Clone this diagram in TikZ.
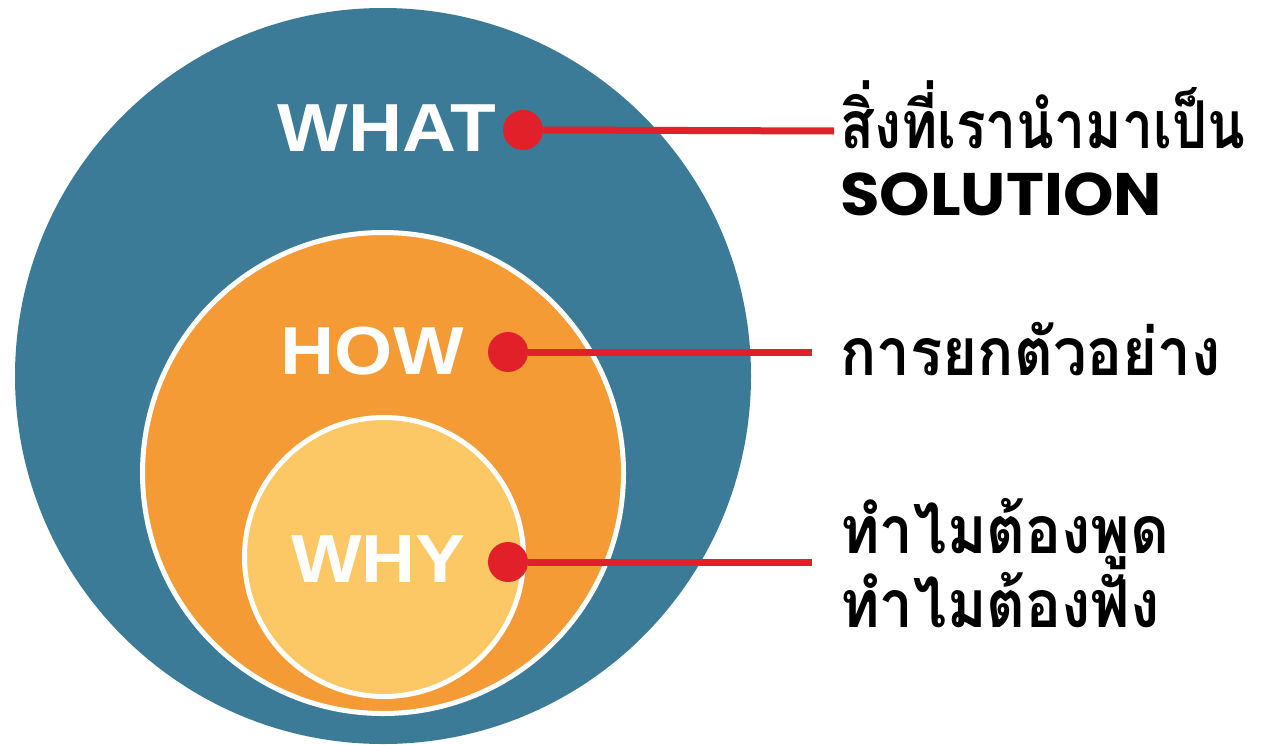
\documentclass[tikz,border=0pt]{standalone}
\usepackage{graphicx}
\usepackage{fontspec}
\setmainfont{Liberation Sans}
\newfontfamily\thaifont[Script=Thai]{Loma}
\newfontfamily\solfont{Poppins}
\definecolor{ringteal}{HTML}{3C7B97}
\definecolor{ringorange}{HTML}{F59B35}
\definecolor{ringyellow}{HTML}{FCC866}
\definecolor{dotred}{HTML}{E1202A}
\newcommand{\widetag}[1]{\scalebox{1.1}[1]{#1}}
\newcommand{\thaiscaled}[2]{\scalebox{#1}[1.1]{#2}}
\begin{document}
\begin{tikzpicture}[x=0.5pt,y=0.5pt,
  outerring/.style={circle, inner sep=0pt, fill=ringteal},
  ring/.style={circle, inner sep=0pt, draw=white, line width=2.5pt},
  dot/.style={circle, fill=dotred, inner sep=0pt, minimum size=20pt},
  leader/.style={draw=dotred, line width=3.5pt},
  tag/.style={text=white, inner sep=0pt, anchor=base east,
    font=\bfseries\fontsize{34}{34}\selectfont},
  thai/.style={inner sep=0pt, anchor=base west,
    font=\thaifont\bfseries\fontsize{30}{30}\selectfont},
  sol/.style={inner sep=0pt, anchor=base west,
    font=\solfont\bfseries\fontsize{30}{30}\selectfont}]
\useasboundingbox (0,0) rectangle (1262,-744);
\fill[white] (0,0) rectangle (1262,-744);

% nested circles
\node[outerring, minimum size=368pt] (what) at (383,-376) {};
\node[ring, fill=ringorange, minimum size=240.5pt] (how) at (383,-473) {};
\node[ring, fill=ringyellow, minimum size=139.5pt] (why) at (384,-557) {};

% circle titles
\node[tag] (whatlbl) at (497,-151) {\widetag{WHAT}};
\node[tag] (howlbl) at (464,-374) {\widetag{HOW}};
\node[tag] (whylbl) at (466,-582) {\widetag{WHY}};

% red markers
\node[dot] (whatdot) at (523,-130) {};
\node[dot] (howdot) at (508,-352) {};
\node[dot] (whydot) at (508,-562) {};

% leader ends
\coordinate (whatend) at (834,-131);
\coordinate (howend) at (812,-352);
\coordinate (whyend) at (812,-562);

\draw[leader] (whatdot.east) -- (whatend);
\draw[leader] (howdot.east) -- (howend);
\draw[leader] (whydot.east) -- (whyend);

% descriptions
\node[thai] (whatdesc) at (840,-148) {\thaiscaled{0.92}{สิ่งที่เรานำมาเป็น}};
\node[sol] (whatsol) at (840,-215) {\scalebox{1.07}[1]{SOLUTION}};
\node[thai] (howdesc) at (840,-375) {\thaiscaled{1}{การยกตัวอย่าง}};
\node[thai] (whydesc1) at (840,-553) {\thaiscaled{1}{ทำไมต้องพูด}};
\node[thai] (whydesc2) at (840,-627) {\thaiscaled{1}{ทำไมต้องฟัง}};
\end{tikzpicture}
\end{document}
